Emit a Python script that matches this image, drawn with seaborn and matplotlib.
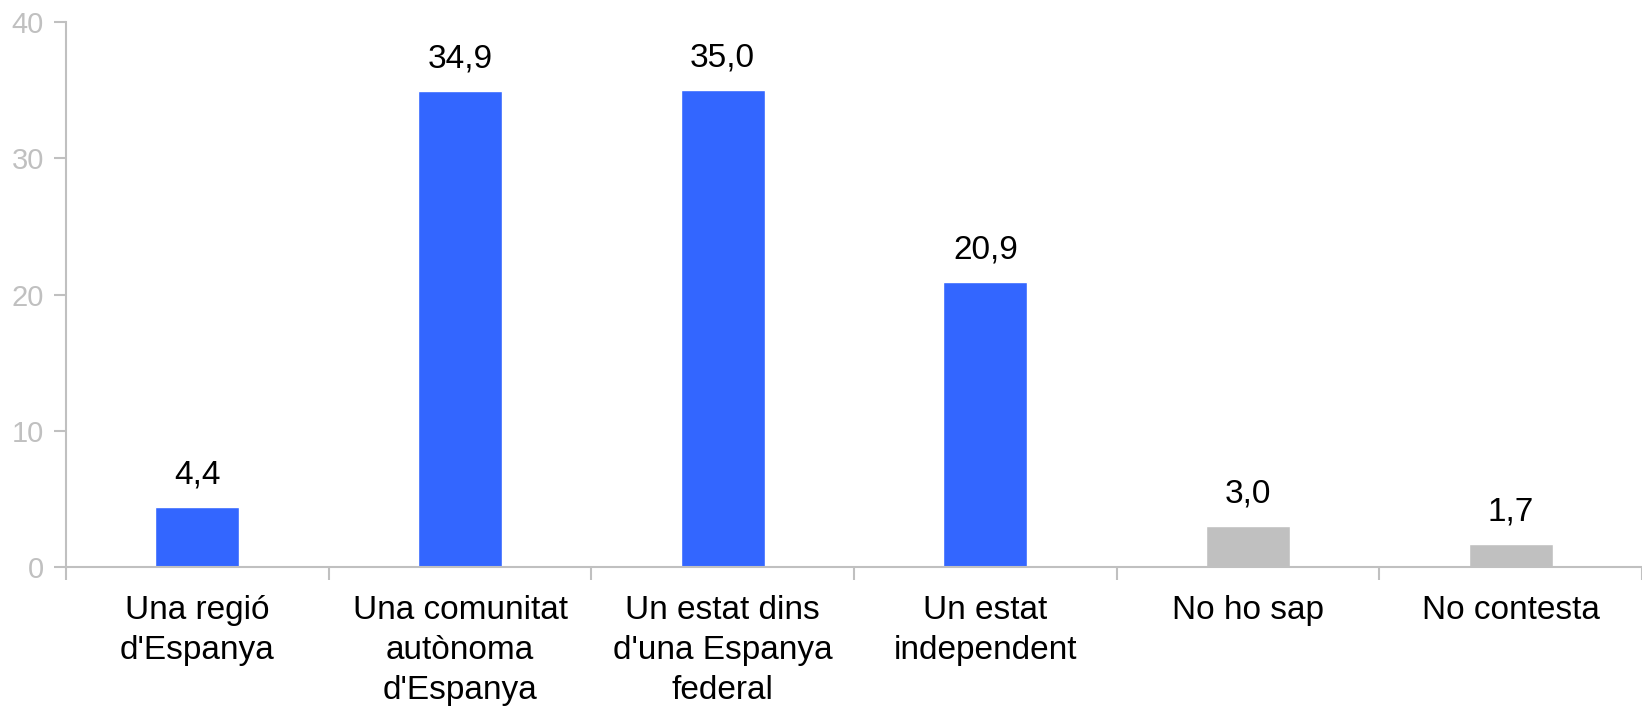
import numpy as np
import pandas as pd
import matplotlib
matplotlib.use('Agg')
import matplotlib.pyplot as plt
import seaborn as sns

categories = ["Una regió\nd'Espanya", "Una comunitat\nautònoma\nd'Espanya",
              "Un estat dins\nd'una Espanya\nfederal", "Un estat\nindependent",
              "No ho sap", "No contesta"]
values = [4.4, 34.9, 35.0, 20.9, 3.0, 1.7]
labels = ["4,4", "34,9", "35,0", "20,9", "3,0", "1,7"]
colors = ["#3366FF", "#3366FF", "#3366FF", "#3366FF", "#C0C0C0", "#C0C0C0"]
yticks = [0, 10, 20, 30, 40]

sns.set_style("white")
plt.rcParams['font.family'] = ['Liberation Sans', 'DejaVu Sans']

df = pd.DataFrame({'cat': categories, 'val': values})

fig = plt.figure(figsize=(16.42, 7.09), dpi=100)
ax = fig.add_axes([66/1642, 142/709, 1576/1642, 545/709])
sns.barplot(data=df, x='cat', y='val', hue='cat', palette=colors, legend=False,
            width=0.32, saturation=1, ax=ax)

for i, (v, t) in enumerate(zip(values, labels)):
    ax.annotate(t, (i, v), xytext=(0, 12), textcoords='offset points',
                ha='center', va='bottom', fontsize=24, color='black')

ax.set_ylim(0, 40)
ax.set_xlim(-0.5, -0.5 + 1576/264)
ax.set_yticks(yticks)
ax.set_xlabel('')
ax.set_ylabel('')

grey = '#C0C0C0'
for s in ['top', 'right']:
    ax.spines[s].set_visible(False)
for s in ['left', 'bottom']:
    ax.spines[s].set_color(grey)
    ax.spines[s].set_linewidth(1.5)

ax.tick_params(axis='y', colors=grey, labelsize=21, length=9, width=1.5, direction='out', left=True, pad=7)
ax.tick_params(axis='x', which='major', length=0, labelsize=24, labelcolor='black', pad=20)
ax.set_xticks(np.arange(-0.5, 5.6, 1), minor=True)
ax.tick_params(axis='x', which='minor', length=9, width=1.5, color=grey, bottom=True, direction='out')
for lab in ax.get_xticklabels():
    lab.set_linespacing(1.38)

fig.savefig('out.png', dpi=100)
